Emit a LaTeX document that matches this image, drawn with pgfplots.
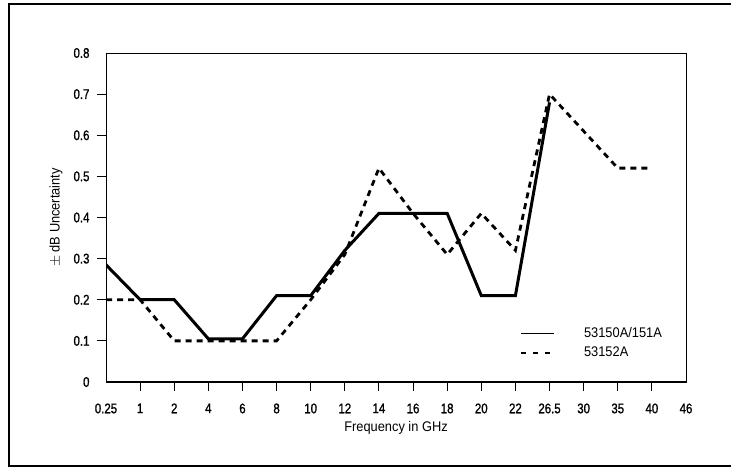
\documentclass[border=0pt]{standalone}
\usepackage{fontspec}
\setmainfont{Liberation Sans}[FakeStretch=0.92]
\newfontfamily\tickfont{Liberation Sans}[FakeStretch=0.82, FakeBold=1.2]
\usepackage{pgfplots}
\usepackage{pgfplotstable}
\pgfplotsset{compat=1.18}

\pgfplotstableread{
x y
0 0.285
1 0.2
2 0.2
3 0.105
4 0.105
5 0.21
6 0.21
7 0.32
8 0.41
9 0.41
10 0.41
11 0.21
12 0.21
13 0.68
}\solidtab

\pgfplotstableread{
x y
0 0.2
1 0.2
2 0.1
3 0.1
4 0.1
5 0.1
6 0.2
7 0.31
8 0.52
9 0.41
10 0.31
11 0.41
12 0.32
13 0.70
14 0.61
15 0.52
16 0.52
}\dashedtab

\begin{document}
\begin{tikzpicture}[x=1bp,y=1bp]
\useasboundingbox (0,0) rectangle (731,468);
\draw[line width=1.5bp] (731,464) -- (9,464) -- (9,2) -- (731,2);
\begin{axis}[
  at={(106bp,86bp)}, anchor=south west,
  scale only axis, width=580bp, height=329bp,
  xmin=0, xmax=17, ymin=0, ymax=0.8,
  axis line style={line width=0.9bp},
  tick pos=left, tick align=outside,
  major tick length=9bp,
  every tick/.style={line width=0.9bp, black},
  xtick={1,...,16},
  xticklabels={1,2,4,6,8,10,12,14,16,18,20,22,26.5,30,35,40},
  extra x ticks={0,17},
  extra x tick labels={0.25,46},
  extra x tick style={major tick length=9bp, every tick/.style={draw=none}},
  ytick={0.1,0.2,0.3,0.4,0.5,0.6,0.7},
  yticklabels={0.1,0.2,0.3,0.4,0.5,0.6,0.7},
  extra y ticks={0,0.8},
  extra y tick labels={0,0.8},
  extra y tick style={major tick length=9bp, every tick/.style={draw=none}},
  xticklabel style={font=\tickfont\fontsize{14}{14}\selectfont, yshift=-9bp},
  yticklabel style={font=\tickfont\fontsize{14}{14}\selectfont, xshift=-4bp},
  xlabel={Frequency in GHz},
  ylabel={$\pm$ dB Uncertainty},
  xlabel style={font=\fontsize{14}{14}\selectfont, at={(axis description cs:0.5,-0.14)}, anchor=center},
  ylabel style={font=\fontsize{14}{14}\selectfont, at={(axis description cs:-0.086,0.5)}, anchor=center},
  legend style={at={(rel axis cs:0.714,0.172)}, anchor=north west, draw=none, fill=none,
    inner sep=0pt, row sep=4bp, font=\fontsize{14}{14}\selectfont},
  legend cell align=left,
]
\addplot[black, line width=3bp, line join=miter,
  legend image code/.code={\draw[black, line width=1.5bp] (0bp,0bp) -- (33bp,0bp); \path[draw=none] (0bp,0bp) -- (61bp,0bp);}]
  table[x=x,y=y] {\solidtab};
\addlegendentry{53150A/151A}
\addplot[black, line width=2.8bp, dash pattern=on 6bp off 5bp,
  legend image code/.code={\draw[black, line width=1.5bp, dash pattern=on 5bp off 7bp] (0bp,0bp) -- (33bp,0bp); \path[draw=none] (0bp,0bp) -- (61bp,0bp);}]
  table[x=x,y=y] {\dashedtab};
\addlegendentry{53152A}
\draw[line width=2bp] (rel axis cs:0,1) -- (rel axis cs:0,0) -- (rel axis cs:1,0);
\end{axis}
\end{tikzpicture}
\end{document}
